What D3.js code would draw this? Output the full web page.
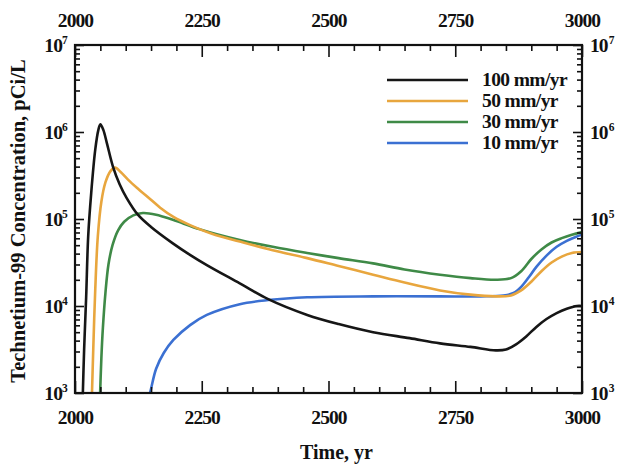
<!DOCTYPE html>
<html><head><meta charset="utf-8">
<script src="https://cdn.jsdelivr.net/npm/d3@7"></script>
<style>
html,body{margin:0;padding:0;background:#fff;}
text{font-family:"Liberation Serif","DejaVu Serif",serif;font-weight:bold;fill:#111;}
</style></head>
<body>
<svg id="c" width="624" height="467"></svg>
<script>
// ---- data ----
const seriesNames = ["100 mm/yr", "50 mm/yr", "30 mm/yr", "10 mm/yr"];
const seriesColors = ["#161616", "#E8A63E", "#3F8A47", "#3B70D2"];

const years100 = [2015,2018,2022,2026,2032,2040,2046,2050,2056,2063,2075,2088,2102,2124,2150,2193,2226,2260,2325,2381,2458,2520,2588,2660,2720,2780,2830,2850,2870,2890,2910,2930,2950,2970,2990,3000];
const conc100  = [794,3.16e3,1.26e4,6.3e4,2.0e5,6.3e5,1.05e6,1.23e6,1.05e6,7.4e5,3.98e5,2.51e5,1.74e5,1.12e5,8.1e4,5.25e4,3.9e4,2.95e4,1.82e4,1.2e4,7.9e3,6.2e3,5.0e3,4.27e3,3.72e3,3.39e3,3.09e3,3.16e3,3.63e3,4.47e3,5.75e3,7.08e3,8.3e3,9.3e3,1.0e4,1.0e4];

const years50 = [2033,2036,2040,2045,2052,2060,2070,2079,2090,2105,2122,2148,2168,2195,2227,2270,2325,2390,2458,2520,2588,2650,2720,2780,2830,2860,2880,2900,2920,2940,2960,2980,3000];
const conc50  = [794,3.16e3,1.58e4,6.3e4,1.58e5,2.63e5,3.55e5,3.9e5,3.47e5,2.82e5,2.29e5,1.70e5,1.35e5,1.05e5,8.5e4,6.76e4,5.5e4,4.37e4,3.55e4,2.88e4,2.29e4,1.86e4,1.51e4,1.35e4,1.29e4,1.32e4,1.51e4,1.9e4,2.51e4,3.16e4,3.7e4,4.07e4,4.17e4];

const years30 = [2049,2052,2055,2060,2066,2074,2085,2097,2115,2134,2160,2193,2247,2325,2390,2458,2520,2588,2650,2720,2780,2830,2860,2880,2900,2920,2940,2960,2980,3000];
const conc30  = [794,2.51e3,5.6e3,1.41e4,3.0e4,5.0e4,7.4e4,9.3e4,1.1e5,1.17e5,1.12e5,9.8e4,7.6e4,5.75e4,4.79e4,4.07e4,3.55e4,3.09e4,2.63e4,2.29e4,2.09e4,2.0e4,2.09e4,2.51e4,3.47e4,4.47e4,5.37e4,6.03e4,6.6e4,7.08e4];

const years10 = [2146,2150,2160,2175,2194,2227,2260,2325,2381,2458,2588,2720,2800,2845,2865,2880,2895,2910,2930,2950,2970,2990,3000];
const conc10  = [891,1.12e3,1.9e3,2.88e3,4.07e3,6.03e3,7.9e3,1.05e4,1.17e4,1.26e4,1.29e4,1.29e4,1.29e4,1.32e4,1.41e4,1.66e4,2.14e4,2.82e4,3.8e4,4.79e4,5.6e4,6.3e4,6.6e4];

const xMajorTicks = [2000, 2250, 2500, 2750, 3000];
const yMajorTicks = [1e3, 1e4, 1e5, 1e6, 1e7];
const yExponents = ["3", "4", "5", "6", "7"];
const xTitle = "Time, yr";
const yTitle = "Technetium-99 Concentration, pCi/L";

// ---- layout ----
const L = 75, R = 582, T = 45, B = 393;
const svg = d3.select("#c");
const x = d3.scaleLinear().domain([2000, 3000]).range([L, R]);
const y = d3.scaleLog().domain([1e3, 1e7]).range([B, T]);

const series = [
  {name: seriesNames[0], color: seriesColors[0], pts: d3.zip(years100, conc100)},
  {name: seriesNames[1], color: seriesColors[1], pts: d3.zip(years50, conc50)},
  {name: seriesNames[2], color: seriesColors[2], pts: d3.zip(years30, conc30)},
  {name: seriesNames[3], color: seriesColors[3], pts: d3.zip(years10, conc10)}
];

svg.append("defs").append("clipPath").attr("id", "clip")
  .append("rect").attr("x", L).attr("y", T).attr("width", R - L).attr("height", B - T);

const line = d3.line().x(d => x(d[0])).y(d => y(d[1])).curve(d3.curveCatmullRom.alpha(0.5));
const plot = svg.append("g").attr("clip-path", "url(#clip)");
[3, 2, 1, 0].forEach(i => {
  plot.append("path").datum(series[i].pts)
    .attr("d", line).attr("fill", "none")
    .attr("stroke", series[i].color).attr("stroke-width", 2.6)
    .attr("stroke-linejoin", "round");
});

// ---- axes (ticks inward) ----
const xMinor = d3.range(2000, 3001, 50).filter(v => !xMajorTicks.includes(v));
const gBottom = svg.append("g").attr("transform", `translate(0,${B})`);
gBottom.call(d3.axisBottom(x).tickValues(xMinor).tickSize(-6).tickFormat(""));
const gBottomMaj = svg.append("g").attr("transform", `translate(0,${B})`);
gBottomMaj.call(d3.axisBottom(x).tickValues(xMajorTicks).tickSize(-12).tickPadding(17).tickFormat(d3.format("d")));
const gTop = svg.append("g").attr("transform", `translate(0,${T})`);
gTop.call(d3.axisTop(x).tickValues(xMinor).tickSize(-6).tickFormat(""));
const gTopMaj = svg.append("g").attr("transform", `translate(0,${T})`);
gTopMaj.call(d3.axisTop(x).tickValues(xMajorTicks).tickSize(-12).tickPadding(18).tickFormat(d3.format("d")));

const yMinor = y.ticks().filter(v => !yMajorTicks.some(m => Math.abs(m - v) < 1e-6 * m));
const gLeft = svg.append("g").attr("transform", `translate(${L},0)`);
gLeft.call(d3.axisLeft(y).tickValues(yMinor).tickSize(-5).tickFormat(""));
const gLeftMaj = svg.append("g").attr("transform", `translate(${L},0)`);
gLeftMaj.call(d3.axisLeft(y).tickValues(yMajorTicks).tickSize(-9).tickFormat(""));
const gRight = svg.append("g").attr("transform", `translate(${R},0)`);
gRight.call(d3.axisRight(y).tickValues(yMinor).tickSize(-5).tickFormat(""));
const gRightMaj = svg.append("g").attr("transform", `translate(${R},0)`);
gRightMaj.call(d3.axisRight(y).tickValues(yMajorTicks).tickSize(-9).tickFormat(""));

svg.selectAll(".domain").remove();
svg.selectAll(".tick line").attr("stroke", "#111").attr("stroke-width", 1.6);
svg.selectAll(".tick text").attr("font-size", 19.5).attr("letter-spacing", -0.9)
  .attr("font-family", "Liberation Serif, serif").attr("font-weight", "bold").attr("fill", "#111");

svg.append("rect").attr("x", L).attr("y", T).attr("width", R - L).attr("height", B - T)
  .attr("fill", "none").attr("stroke", "#111").attr("stroke-width", 2.2);

// y tick labels (10^n) on both sides
yMajorTicks.forEach((v, i) => {
  svg.append("text").attr("x", L - 13).attr("y", y(v) + 7).attr("text-anchor", "end")
    .attr("font-size", 19.5).attr("letter-spacing", -0.9).text("10");
  svg.append("text").attr("x", L - 13).attr("y", y(v) - 1).attr("font-size", 11.5)
    .attr("text-anchor", "start").text(yExponents[i]);
  const t = svg.append("text").attr("x", R + 8).attr("y", y(v) + 7).attr("text-anchor", "start")
    .attr("font-size", 19.5).attr("letter-spacing", -0.9);
  t.append("tspan").text("10");
  t.append("tspan").attr("dy", -8).attr("dx", 1).attr("font-size", 11.5).text(yExponents[i]);
});

// titles
svg.append("text").attr("x", (L + R) / 2 + 8).attr("y", 459).attr("text-anchor", "middle")
  .attr("font-size", 20).text(xTitle);
svg.append("text").attr("transform", `translate(25,${(T + B) / 2 + 2}) rotate(-90)`)
  .attr("text-anchor", "middle").attr("font-size", 20.5).text(yTitle);

// legend
const lg = svg.append("g");
series.forEach((s, i) => {
  const yy = 80 + i * 21;
  lg.append("line").attr("x1", 387).attr("x2", 468).attr("y1", yy).attr("y2", yy)
    .attr("stroke", s.color).attr("stroke-width", 2.6);
  lg.append("text").attr("x", 482).attr("y", yy + 6).attr("font-size", 19.5)
    .attr("letter-spacing", -0.6).text(s.name);
});
</script>
</body></html>
